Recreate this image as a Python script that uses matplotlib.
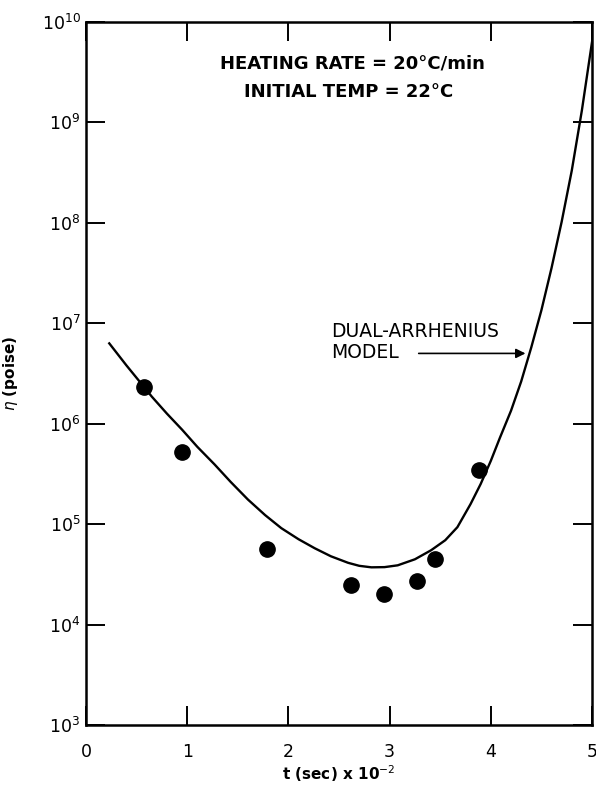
import matplotlib
matplotlib.use("Agg")
import matplotlib.pyplot as plt
import numpy as np

# measured viscosity, t in units of 100 s
t_data = [0.57, 0.95, 1.79, 2.62, 2.94, 3.27, 3.45, 3.88]
eta_data = [2.33e6, 5.2e5, 5.7e4, 2.5e4, 2.0e4, 2.7e4, 4.5e4, 3.5e5]

# dual-Arrhenius model curve, log10(eta) at selected times
t_model = [0.23, 0.40, 0.57, 0.65, 0.80, 0.95, 1.10, 1.27, 1.43, 1.60,
           1.77, 1.93, 2.10, 2.26, 2.42, 2.59, 2.70, 2.82, 2.95, 3.08,
           3.25, 3.41, 3.55, 3.67, 3.80, 3.90, 4.00, 4.09, 4.20, 4.30,
           4.40, 4.50, 4.60, 4.70, 4.80, 4.90, 5.00]
log_eta_model = [6.80, 6.58, 6.37, 6.27, 6.10, 5.94, 5.77, 5.595, 5.42, 5.245,
                 5.09, 4.96, 4.85, 4.76, 4.68, 4.615, 4.585, 4.57, 4.572, 4.59,
                 4.65, 4.74, 4.84, 4.97, 5.20, 5.40, 5.63, 5.86, 6.13, 6.42,
                 6.76, 7.13, 7.55, 8.01, 8.52, 9.12, 9.80]

x_ticks = [0, 1, 2, 3, 4, 5]
y_ticks = [1e3, 1e4, 1e5, 1e6, 1e7, 1e8, 1e9, 1e10]
y_tick_labels = [r"$10^{%d}$" % p for p in range(3, 11)]

fig = plt.figure(figsize=(5.96, 7.86), dpi=100)
ax = fig.add_axes([86 / 596, 61 / 786, 506 / 596, 703 / 786])

ax.plot(t_model, 10 ** np.array(log_eta_model), color="black", lw=1.7,
        solid_joinstyle="round")
ax.plot(t_data, eta_data, "o", color="black", markersize=11)

ax.set_yscale("log")
ax.set_xlim(0, 5)
ax.set_ylim(1e3, 1e10)
ax.set_xticks(x_ticks)
ax.set_xticklabels([str(v) for v in x_ticks])
ax.set_yticks(y_ticks)
ax.set_yticklabels(y_tick_labels)
ax.minorticks_off()

ax.tick_params(which="major", direction="in", length=14, width=1.4,
               top=True, right=True, labelsize=12.5)
ax.tick_params(axis="x", pad=13)
ax.tick_params(axis="y", pad=4)
for side in ax.spines.values():
    side.set_linewidth(1.8)

ax.set_xlabel(r"t (sec) x 10$^{-2}$", fontsize=11, fontweight="bold")
ax.xaxis.set_label_coords(0.5, -0.054)
ax.set_ylabel(r"$\eta$ (poise)", fontsize=11, fontweight="bold")
ax.yaxis.set_label_coords(-0.13, 0.5)

# heading
ax.text(2.63, 10 ** 9.59, "HEATING RATE = 20°C/min", ha="center", va="center",
        fontsize=13, fontweight="bold")
ax.text(2.60, 10 ** 9.30, "INITIAL TEMP = 22°C", ha="center", va="center",
        fontsize=13, fontweight="bold")

# model label with arrow
ax.text(2.42, 10 ** 6.81, "DUAL-ARRHENIUS\nMODEL", ha="left", va="center",
        fontsize=13.5, linespacing=1.15)
ax.annotate("", xy=(4.37, 10 ** 6.70), xytext=(3.26, 10 ** 6.70),
            arrowprops=dict(arrowstyle="-|>", lw=1.2, color="black",
                            mutation_scale=14))

fig.savefig("out.png", dpi=100)
plt.close(fig)
